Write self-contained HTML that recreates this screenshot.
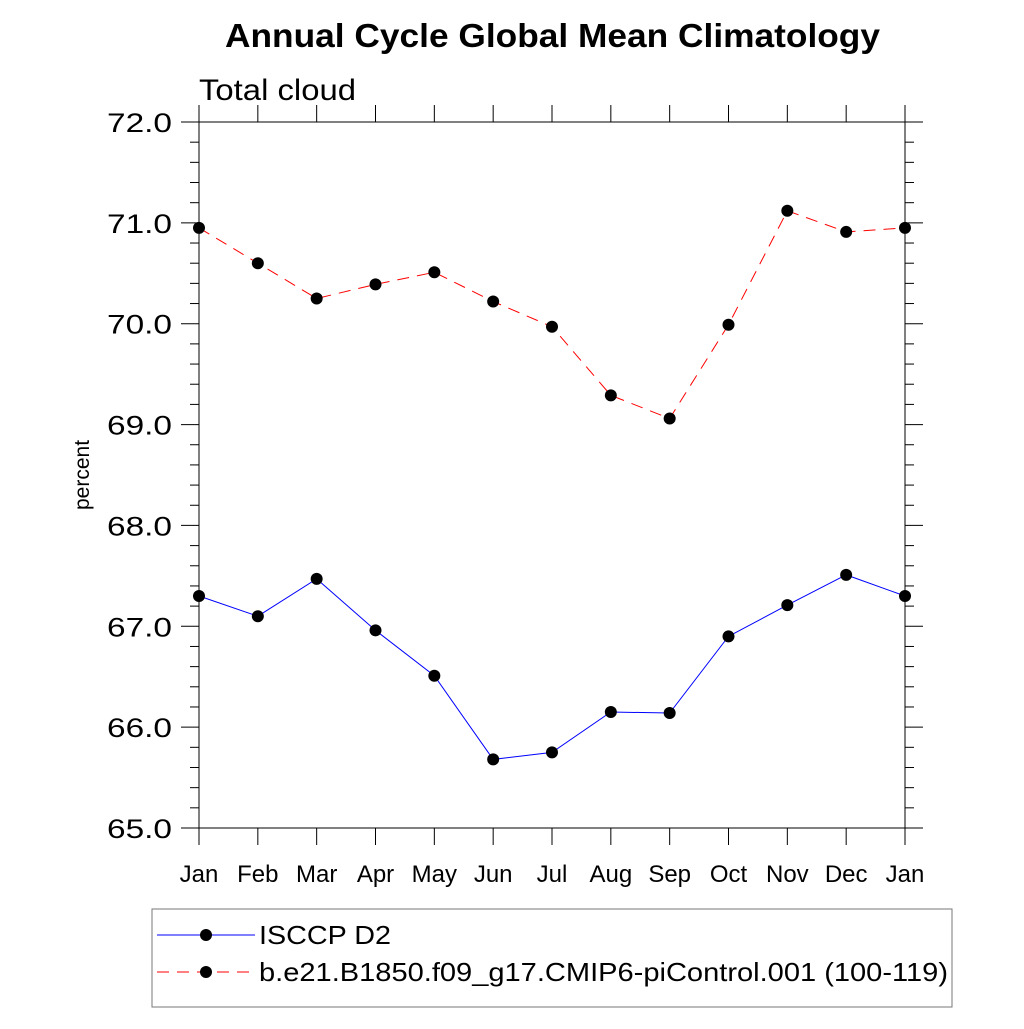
<!DOCTYPE html>
<html><head><meta charset="utf-8"><style>
body{margin:0;background:#fff}
svg text{font-family:"Liberation Sans",sans-serif;fill:#000}
</style></head><body>
<svg id="chart" width="1024" height="1024" xmlns="http://www.w3.org/2000/svg">
<text x="225" y="47" font-size="33" font-weight="bold" textLength="655" lengthAdjust="spacingAndGlyphs">Annual Cycle Global Mean Climatology</text>
<text x="199" y="100" font-size="30" textLength="157" lengthAdjust="spacingAndGlyphs">Total cloud</text>
<text transform="translate(89,475) rotate(-90)" font-size="21" text-anchor="middle">percent</text>
<g id="axes"></g><g id="series"></g>
<rect x="152" y="909" width="800" height="98" fill="none" stroke="#777" stroke-width="1"/>
<line x1="157" y1="935" x2="255" y2="935" stroke="#0000ff" stroke-width="1"/>
<circle cx="206" cy="935" r="6"/>
<text x="259" y="944" font-size="26" textLength="132" lengthAdjust="spacingAndGlyphs">ISCCP D2</text>
<line x1="157" y1="972" x2="255" y2="972" stroke="#ff0000" stroke-width="1" stroke-dasharray="12,8"/>
<circle cx="206" cy="972" r="6"/>
<text x="259" y="981" font-size="26" textLength="689" lengthAdjust="spacingAndGlyphs">b.e21.B1850.f09_g17.CMIP6-piControl.001 (100-119)</text>
</svg>
<script>
const months=["Jan","Feb","Mar","Apr","May","Jun","Jul","Aug","Sep","Oct","Nov","Dec","Jan"];
const isccp=[67.3,67.1,67.47,66.96,66.51,65.68,65.75,66.15,66.14,66.9,67.21,67.51,67.3];
const model=[70.95,70.6,70.25,70.39,70.51,70.22,69.97,69.29,69.06,69.99,71.12,70.91,70.95];
const yTicks=[65,66,67,68,69,70,71,72];
const X0=199,X1=905,Y0=828,Y1=122,YMIN=65,YMAX=72;
const xs=i=>X0+i*(X1-X0)/(months.length-1);
const ys=v=>Y0-(v-YMIN)*(Y0-Y1)/(YMAX-YMIN);
const NS="http://www.w3.org/2000/svg";
function mk(p,t,a){const e=document.createElementNS(NS,t);for(const k in a)e.setAttribute(k,a[k]);p.appendChild(e);return e;}
const ax=document.getElementById('axes');
const fr=mk(ax,'rect',{x:X0,y:Y1,width:X1-X0,height:Y0-Y1,fill:'none',stroke:'#000','stroke-width':1});


for(let v=YMIN;v<=YMAX+1e-6;v+=0.2){const y=ys(v);const maj=Math.abs(v-Math.round(v))<1e-6;const L=maj?18:9;
mk(ax,'line',{x1:X0-L,y1:y,x2:X0,y2:y,stroke:'#000','stroke-width':1});
mk(ax,'line',{x1:X1,y1:y,x2:X1+L,y2:y,stroke:'#000','stroke-width':1});}
yTicks.forEach(v=>{const t=mk(ax,'text',{x:107,y:ys(v)+10,'font-size':27,textLength:65,lengthAdjust:'spacingAndGlyphs'});t.textContent=v.toFixed(1);

});
months.forEach((m,i)=>{const x=xs(i);
mk(ax,'line',{x1:x,y1:Y1-17,x2:x,y2:Y1,stroke:'#000','stroke-width':1});
mk(ax,'line',{x1:x,y1:Y0,x2:x,y2:Y0+17,stroke:'#000','stroke-width':1});
const t=mk(ax,'text',{x:x,y:882,'font-size':24,'text-anchor':'middle'});t.textContent=m;

});
const sg=document.getElementById('series');
function series(d,col,dash,name){
const pl=mk(sg,'polyline',{points:d.map((v,i)=>xs(i)+','+ys(v)).join(' '),fill:'none',stroke:col,'stroke-width':1,'stroke-dasharray':dash});


d.forEach((v,i)=>{const c=mk(sg,'circle',{cx:xs(i),cy:ys(v),r:6,fill:'#000'});

});}
series(isccp,'#0000ff','none','isccp');
series(model,'#ff0000','12,8','model');
</script>
</body></html>
